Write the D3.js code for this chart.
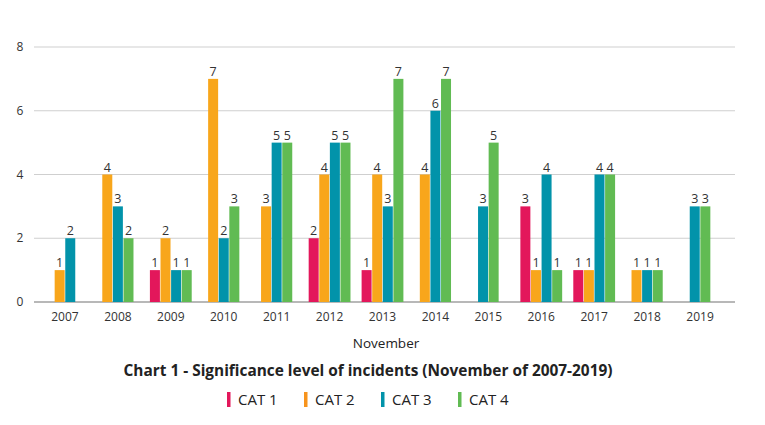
<!DOCTYPE html>
<html><head><meta charset="utf-8">
<script src="https://cdn.jsdelivr.net/npm/d3@7"></script>
<style>body{margin:0;background:#fff;} text{font-family:"Open Sans",sans-serif;}</style>
</head><body><svg id="c" width="765" height="425"></svg>
<script>
const years = ["2007","2008","2009","2010","2011","2012","2013","2014","2015","2016","2017","2018","2019"];
const seriesNames = ["CAT 1","CAT 2","CAT 3","CAT 4"];
const cat1 = [0,0,1,0,0,2,1,0,0,3,1,0,0];
const cat2 = [1,4,2,7,3,4,4,4,0,1,1,1,0];
const cat3 = [2,3,1,2,5,5,3,6,3,4,4,1,3];
const cat4 = [0,2,1,3,5,5,7,7,5,1,4,1,3];
const yTicks = [0,2,4,6,8];
const colors = ["#e3175b","#f8a61b","#0293aa","#61bb53"];
const legendColors = ["#e3175b","#f7941d","#0293aa","#61bb53"];

const series = [cat1,cat2,cat3,cat4];
const svg = d3.select("#c");
const plotLeft = 34, plotRight = 735, plotTop = 47, plotBottom = 302;
const x = d3.scaleBand().domain(years).range([38.5, 726.5]);
const y = d3.scaleLinear().domain([0,8]).range([plotBottom, plotTop]);

// grid
svg.append("g").selectAll("line").data(yTicks).join("line")
  .attr("x1", plotLeft).attr("x2", plotRight)
  .attr("y1", d=>y(d)).attr("y2", d=>y(d))
  .attr("stroke", d=> d===0 ? "#b8b8b8" : "#cfcfcf").attr("stroke-width", d=>d===0?2:1.2);
svg.append("g").selectAll("text").data(yTicks).join("text")
  .attr("x", 20).attr("y", d=>y(d)+4).attr("text-anchor","middle")
  .attr("font-size", 12).attr("fill","#333").text(d=>d);

// x labels
svg.append("g").selectAll("text").data(years).join("text")
  .attr("x", d=>x(d)+x.bandwidth()/2).attr("y", 321).attr("text-anchor","middle")
  .attr("font-size", 12).attr("fill","#333").text(d=>d);

const bw = 10, step = 10.6;
const g = svg.append("g");
years.forEach((yr, i) => {
  const present = series.map((s,k)=>({k, v:s[i]})).filter(d=>d.v>0);
  const n = present.length;
  const cx = x(yr) + x.bandwidth()/2;
  const start = cx - (n*step - (step-bw))/2;
  present.forEach((d, j) => {
    const bx = start + j*step;
    g.append("rect").attr("x", bx).attr("width", bw)
      .attr("y", y(d.v)).attr("height", y(0)-y(d.v)).attr("fill", colors[d.k]);
    g.append("text").attr("x", bx+bw/2).attr("y", y(d.v)-3).attr("text-anchor","middle")
      .attr("font-size", 12.5).attr("fill","#333").text(d.v);
  });
});

svg.append("text").attr("x", 386).attr("y", 348).attr("text-anchor","middle")
  .attr("font-size", 13.5).attr("fill","#222").text("November");
svg.append("text").attr("x", 368).attr("y", 376).attr("text-anchor","middle")
  .attr("font-size", 15.4).attr("font-weight","bold").attr("fill","#222")
  .text("Chart 1 - Significance level of incidents (November of 2007-2019)");

const lg = svg.append("g");
seriesNames.forEach((s,i)=>{
  const lx = 227 + i*77;
  lg.append("rect").attr("x", lx).attr("y", 392).attr("width", 3.5).attr("height", 15).attr("fill", legendColors[i]);
  lg.append("text").attr("x", lx+11).attr("y", 405).attr("font-size", 15).attr("fill","#222").text(s);
});
</script></body></html>
